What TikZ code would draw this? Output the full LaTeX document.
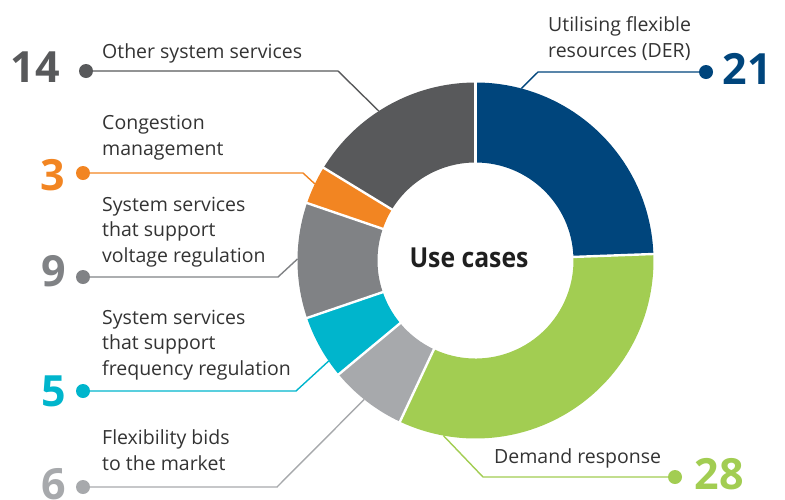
\documentclass[tikz,border=0pt]{standalone}
\usepackage{fontspec}
\usepackage{graphicx}
\setmainfont{Open Sans}
\usetikzlibrary{calc}
\definecolor{cDER}{HTML}{00457C}
\definecolor{cDR}{HTML}{A2CD52}
\definecolor{cFlex}{HTML}{A7A9AC}
\definecolor{cFreq}{HTML}{00B5CC}
\definecolor{cVolt}{HTML}{808285}
\definecolor{cCong}{HTML}{F28522}
\definecolor{cOther}{HTML}{58595B}
\definecolor{txt}{HTML}{333333}
\tikzset{
  lab/.style={anchor=base west, align=left, inner sep=0pt, text=txt, font=\fontsize{19.5}{25.3}\selectfont},
  num/.style={inner sep=0pt, font=\fontsize{43}{43}\selectfont\bfseries},
  dotnode/.style={circle, fill=#1, inner sep=0pt, minimum size=14pt},
  conn/.style={draw=#1, line width=1.4pt},
  sep/.style={draw=white, line width=2.4pt}
}
\begin{document}
\begin{tikzpicture}[x=1pt,y=-1pt]
\useasboundingbox (0,0) rectangle (785,499);
% connector end points on the donut rim
\begin{scope}[shift={(475.5,260.5)}]
  \coordinate (eOther) at (122.9:178pt);
  \coordinate (eCong) at (154.5:178pt);
  \coordinate (eVolt) at (179.5:178pt);
  \coordinate (eFreq) at (-145.6:178pt);
  \coordinate (eFlex) at (-128.7:178pt);
  \coordinate (eDER) at (75.1:178pt);
  \coordinate (eDR) at (-100.4:178pt);
\end{scope}
% dots
\node[dotnode=cOther] (dOther) at (86,71) {};
\node[dotnode=cCong] (dCong) at (83,173) {};
\node[dotnode=cVolt] (dVolt) at (83,277) {};
\node[dotnode=cFreq] (dFreq) at (83,391) {};
\node[dotnode=cFlex] (dFlex) at (83,487) {};
\node[dotnode=cDER] (dDER) at (706,72) {};
\node[dotnode=cDR] (dDR) at (675,477) {};
% connector lines
\draw[conn=cOther] (dOther.center) -- (338,71) -- (eOther);
\draw[conn=cCong] (dCong.center) -- (303,173) -- (eCong);
\draw[conn=cVolt] (dVolt.center) -- (278,277) -- (eVolt);
\draw[conn=cFreq] (dFreq.center) -- (296,391) -- (eFreq);
\draw[conn=cFlex] (dFlex.center) -- (277,487) -- (eFlex);
\draw[conn=cDER] (dDER.center) -- (538,72) -- (eDER);
\draw[conn=cDR] (dDR.center) -- (483,477) -- (eDR);
% donut
\begin{scope}[shift={(475.5,260.5)}]
  \foreach \a/\b/\c in {90/2.093/cDER, 2.093/-115.116/cDR, -115.116/-140.233/cFlex,
     -140.233/-161.163/cFreq, -161.163/-198.837/cVolt, -198.837/-211.395/cCong, -211.395/-270/cOther}{
    \fill[\c] (\a:98pt) -- (\a:178pt) arc[start angle=\a, end angle=\b, radius=178pt]
       -- (\b:98pt) arc[start angle=\b, end angle=\a, radius=98pt] -- cycle;
  }
  \foreach \a in {90, 2.093, -115.116, -140.233, -161.163, -198.837, -211.395}{
    \draw[sep] (\a:96pt) -- (\a:180pt);
  }
\end{scope}
\node[inner sep=0pt, text=black!88, font=\fontsize{27.5}{27.5}\selectfont\bfseries] (center) at (469,258) {\scalebox{0.9}[1]{Use cases}};
% numbers
\node[num, text=cOther] (nOther) at (35.5,67.5) {14};
\node[num, text=cCong] (nCong) at (52.5,175) {3};
\node[num, text=cVolt] (nVolt) at (53.5,271.5) {9};
\node[num, text=cFreq] (nFreq) at (53.5,391) {5};
\node[num, text=cFlex] (nFlex) at (53.5,484) {6};
\node[num, text=cDER] (nDER) at (747.5,69) {21};
\node[num, text=cDR] (nDR) at (719,474) {28};
% labels (anchored at the baseline of their last line)
\node[lab] (lOther) at (102,58) {Other system services};
\node[lab] (lCong) at (102,155) {Congestion\\management};
\node[lab] (lVolt) at (102,262) {System services\\that support\\voltage regulation};
\node[lab] (lFreq) at (102,375) {System services\\that support\\frequency regulation};
\node[lab] (lFlex) at (102,470) {Flexibility bids\\to the market};
\node[lab] (lDER) at (548,57) {Utilising flexible\\resources (DER)};
\node[lab] (lDR) at (494,463) {Demand response};
\end{tikzpicture}
\end{document}
